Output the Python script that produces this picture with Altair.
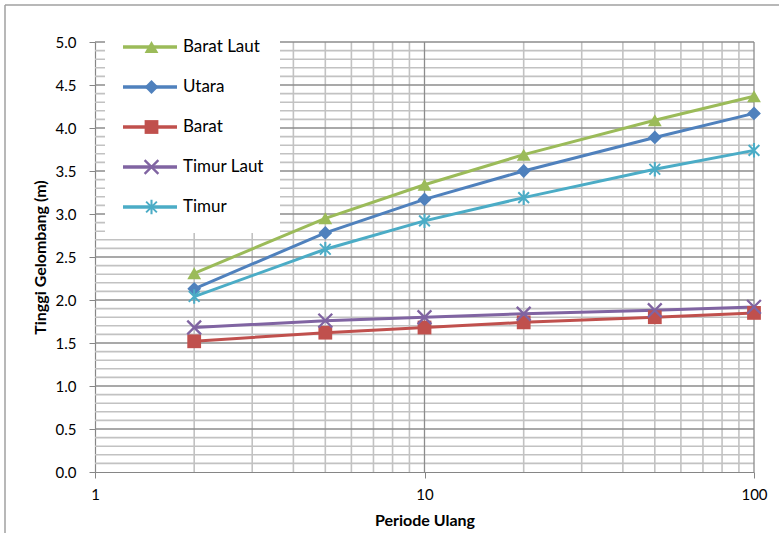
import altair as alt
import pandas as pd

# Return period (years) and wave height (m) for each direction
periode = [2, 5, 10, 20, 50, 100]
arah = ["Barat Laut", "Utara", "Barat", "Timur Laut", "Timur"]
barat_laut = [2.31, 2.95, 3.34, 3.69, 4.09, 4.37]
utara = [2.13, 2.78, 3.17, 3.50, 3.89, 4.17]
barat = [1.52, 1.62, 1.68, 1.74, 1.80, 1.85]
timur_laut = [1.68, 1.76, 1.80, 1.84, 1.88, 1.92]
timur = [2.04, 2.59, 2.92, 3.19, 3.52, 3.74]
warna = ["#9BBB59", "#4F81BD", "#C0504D", "#8064A2", "#4BACC6"]

# tick / gridline positions
x_labels = [1, 10, 100]
x_major_grid = [10, 100]
x_minor_grid = [2, 3, 4, 5, 6, 7, 8, 9, 20, 30, 40, 50, 60, 70, 80, 90]
y_labels = [0.0, 0.5, 1.0, 1.5, 2.0, 2.5, 3.0, 3.5, 4.0, 4.5, 5.0]
y_major_grid = y_labels[1:]
y_minor_grid = [round(i / 10, 1) for i in range(1, 50) if i % 5]

# marker shapes: filled X and asterisk built from thin bars
d = 0.12
x_path = (
    f"M{-1+d},{-1-d}L{1+d},{1-d}L{1-d},{1+d}L{-1-d},{-1+d}Z"
    f"M{-1+d},{1+d}L{-1-d},{1-d}L{1-d},{-1-d}L{1+d},{-1+d}Z"
)
a, e, v = 0.78, 0.1, 0.15
star_path = (
    f"M{-a+e},{-a-e}L{a+e},{a-e}L{a-e},{a+e}L{-a-e},{-a+e}Z"
    f"M{-a+e},{a+e}L{-a-e},{a-e}L{a-e},{-a-e}L{a+e},{-a+e}Z"
    f"M{-v},-1.05L{v},-1.05L{v},1.05L{-v},1.05Z"
)
bentuk = ["triangle-up", "diamond", "square", x_path, star_path]

# line series keys carry a trailing space so the line legend stays separate
# from the marker legend (identical domains would be merged into one legend)
garis = [n + " " for n in arah]

series = [barat_laut, utara, barat, timur_laut, timur]
df = pd.DataFrame(
    [{"arah": n, "garis": g, "periode": p, "tinggi": h}
     for n, g, vals in zip(arah, garis, series) for p, h in zip(periode, vals)]
)

FONT = "Lato"
xscale = alt.Scale(type="log", domain=[1, 100], nice=False)
yscale = alt.Scale(domain=[0, 5], nice=False, zero=False)
stroke_scale = alt.Scale(domain=garis, range=warna)
fill_scale = alt.Scale(domain=arah, range=warna)
shape_scale = alt.Scale(domain=arah, range=bentuk)

xaxis = alt.Axis(
    values=x_labels, format="d", grid=False, labelFlush=False,
    tickSize=6, tickColor="#868686", domainColor="#868686", domainWidth=1.2,
    labelFont=FONT, labelFontSize=15, labelColor="#000", labelPadding=9,
    title="Periode Ulang", titleFont=FONT, titleFontSize=16, titleFontWeight="bold",
    titleColor="#000", titlePadding=10,
)
yaxis = alt.Axis(
    values=y_labels, format=".1f", grid=False, labelFlush=False,
    tickSize=6, tickColor="#868686", domainColor="#868686", domainWidth=1.2,
    labelFont=FONT, labelFontSize=15, labelColor="#000", labelPadding=13,
    title="Tinggi Gelombang (m)", titleFont=FONT, titleFontSize=16,
    titleFontWeight="bold", titleColor="#000", titlePadding=7,
)

X = lambda f: alt.X(f, scale=xscale, axis=xaxis)
Y = lambda f: alt.Y(f, scale=yscale, axis=yaxis)

grid_minor_x = alt.Chart(pd.DataFrame({"v": x_minor_grid})).mark_rule(
    color="#c2c2c2", strokeWidth=1.6).encode(x=X("v:Q"))
grid_minor_y = alt.Chart(pd.DataFrame({"v": y_minor_grid})).mark_rule(
    color="#c2c2c2", strokeWidth=1.6).encode(y=Y("v:Q"))
grid_major_x = alt.Chart(pd.DataFrame({"v": x_major_grid})).mark_rule(
    color="#8c8c8c", strokeWidth=1.3).encode(x=X("v:Q"))
grid_major_y = alt.Chart(pd.DataFrame({"v": y_major_grid})).mark_rule(
    color="#8c8c8c", strokeWidth=1.3).encode(y=Y("v:Q"))

# line legend: white box, stroke swatches and the direction names
stroke_legend = alt.Legend(
    title=None, orient="none", legendX=10, legendY=-21,
    symbolType="stroke", symbolSize=2916, symbolStrokeWidth=3.5,
    labelFont=FONT, labelFontSize=17, labelColor="#000", labelOffset=4,
    padding=16, rowPadding=20, clipHeight=20, fillColor="white", zindex=1,
)
# marker legend: drawn over the swatches, no labels of its own
marker_legend = alt.Legend(
    title=None, orient="none", legendX=32, legendY=-21,
    symbolSize=190, symbolStrokeWidth=0, symbolOpacity=1,
    labelExpr="''", labelFontSize=17, labelOffset=4,
    padding=16, rowPadding=20, clipHeight=20, zindex=2,
)

lines = alt.Chart(df).mark_line(strokeWidth=3).encode(
    x=X("periode:Q"), y=Y("tinggi:Q"),
    stroke=alt.Stroke("garis:N", scale=stroke_scale, legend=stroke_legend),
)
markers = alt.Chart(df).mark_point(
    filled=True, size=190, strokeWidth=0, opacity=1).encode(
    x=X("periode:Q"), y=Y("tinggi:Q"),
    fill=alt.Fill("arah:N", scale=fill_scale, legend=marker_legend),
    shape=alt.Shape("arah:N", scale=shape_scale, legend=marker_legend),
)

# chart-area border (top and left edges)
one = pd.DataFrame({"k": [0]})
frame_top = alt.Chart(one).mark_rule(color="#a0a0a0", strokeWidth=1.5).encode(
    x=alt.value(-90), x2=alt.value(700), y=alt.value(-37))
frame_left = alt.Chart(one).mark_rule(color="#a0a0a0", strokeWidth=1.5).encode(
    x=alt.value(-90), y=alt.value(-37), y2=alt.value(500))

chart = alt.layer(
    grid_minor_x, grid_minor_y, grid_major_x, grid_major_y,
    lines, markers, frame_top, frame_left,
).properties(
    width=659, height=430,
    autosize=alt.AutoSizeParams(type="none"),
    padding={"left": 95, "top": 42, "right": 25, "bottom": 61},
    background="white",
).configure_view(stroke=None)

chart.save("out.html", embed_options={"renderer": "svg", "actions": False})
